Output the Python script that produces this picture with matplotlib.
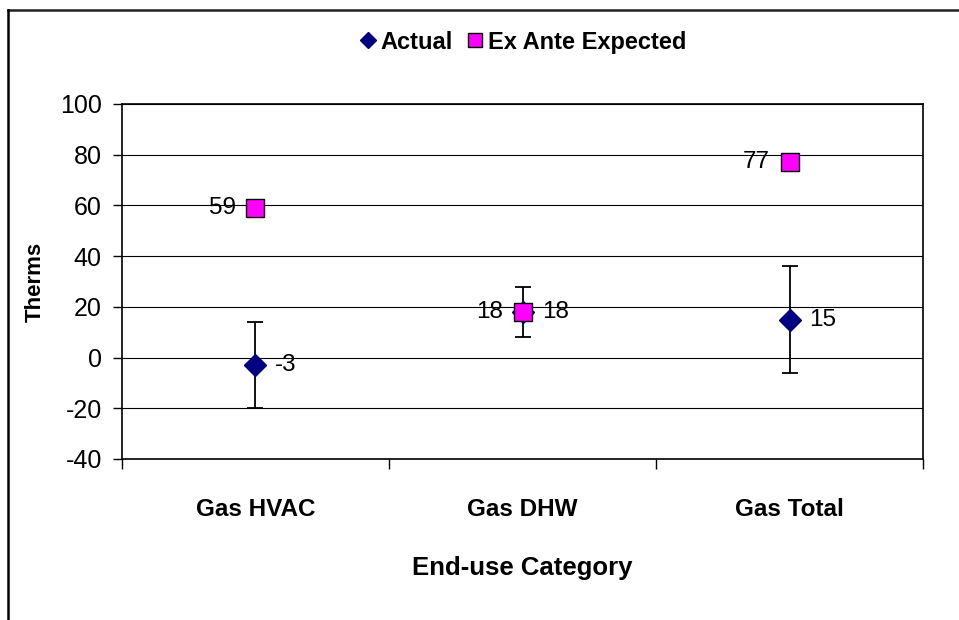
import numpy as np
import matplotlib
matplotlib.use("Agg")
import matplotlib.pyplot as plt
from matplotlib.lines import Line2D

plt.rcParams['font.family'] = ['Liberation Sans', 'DejaVu Sans']
plt.rcParams['axes.unicode_minus'] = False

categories = ["Gas HVAC", "Gas DHW", "Gas Total"]
actual = [-3, 18, 15]
actual_err = [17, 10, 21]
expected = [59, 18, 77]

x = np.arange(len(categories))

fig = plt.figure(figsize=(9.59, 6.20), dpi=100)
ax = fig.add_axes([0.1272, 0.2597, 0.8353, 0.5726])

# gridlines
ax.set_axisbelow(True)
ax.yaxis.grid(True, color="black", linewidth=0.8)

ax.errorbar(x, actual, yerr=actual_err, fmt="none", ecolor="black",
            elinewidth=1.3, capsize=5.5, capthick=1.3, zorder=3)
ax.plot(x, actual, linestyle="none", marker="D", markersize=11,
        markerfacecolor="#000080", markeredgecolor="#000080", zorder=4,
        label="Actual")
ax.plot(x, expected, linestyle="none", marker="s", markersize=13,
        markerfacecolor="#ff00ff", markeredgecolor="black",
        markeredgewidth=1.0, zorder=5, label="Ex Ante Expected")

for xi, v in zip(x, actual):
    ax.annotate(str(v), (xi, v), xytext=(14, 0), textcoords="offset points",
                ha="left", va="center", fontsize=17.5)
for xi, v in zip(x, expected):
    ax.annotate(str(v), (xi, v), xytext=(-14, 0), textcoords="offset points",
                ha="right", va="center", fontsize=17.5)

ax.set_xlim(-0.5, 2.5)
ax.set_ylim(-40, 100)
ax.set_yticks(np.arange(-40, 101, 20))
ax.tick_params(axis="y", direction="out", length=6.5, width=1, pad=8,
               labelsize=18)

ax.set_xticks([-0.5, 0.5, 1.5, 2.5])
ax.set_xticklabels([])
ax.tick_params(axis="x", which="major", direction="out", length=7, width=1)
ax.set_xticks(x, minor=True)
ax.set_xticklabels(categories, minor=True, fontsize=17.5, fontweight="bold")
ax.tick_params(axis="x", which="minor", length=0, pad=28)

for s in ax.spines.values():
    s.set_color("black")
    s.set_linewidth(1.2)

ax.set_xlabel("End-use Category", fontsize=18.5, fontweight="bold", labelpad=25)
ax.set_ylabel("Therms", fontsize=16, fontweight="bold", labelpad=10)

leg = fig.legend(handles=[
    Line2D([], [], linestyle="none", marker="D", markersize=8,
           markerfacecolor="#000080", markeredgecolor="#000080", label="Actual"),
    Line2D([], [], linestyle="none", marker="s", markersize=10,
           markerfacecolor="#ff00ff", markeredgecolor="black",
           label="Ex Ante Expected")],
    loc="center", bbox_to_anchor=(0.543, 0.932), ncol=2, frameon=False,
    prop={"size": 17, "weight": "bold"}, handletextpad=0.0, columnspacing=0.4,
    handlelength=1.1)

# outer chart frame (only top and left visible)
fig.add_artist(Line2D([8 / 959, 1.0], [1 - 10 / 620, 1 - 10 / 620],
                      transform=fig.transFigure, color="#222222", linewidth=1.8))
fig.add_artist(Line2D([8 / 959, 8 / 959], [0.0, 1 - 10 / 620],
                      transform=fig.transFigure, color="black", linewidth=1.8))

fig.savefig("out.png", dpi=100)
